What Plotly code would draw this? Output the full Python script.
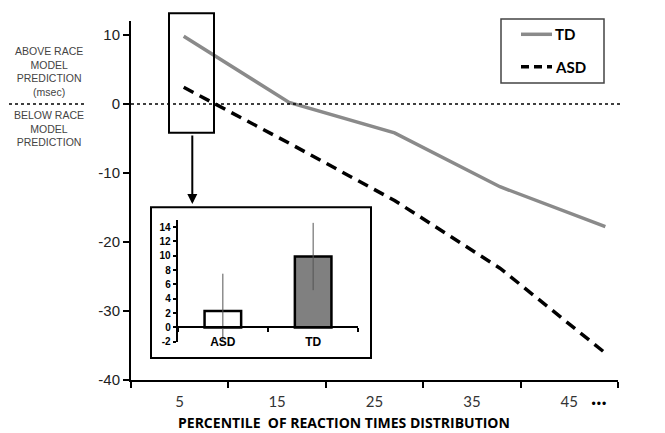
import plotly.graph_objects as go

# ---- data ----
percentiles = [5, 15, 25, 35, 45]
td_values = [9.8, 0.2, -4.2, -12.0, -17.8]
asd_values = [2.4, -5.7, -14.0, -23.8, -36.1]

inset_groups = ["ASD", "TD"]
inset_means = [2.3, 9.9]
inset_err = [5.2, 4.7]

y_ticks = [10, 0, -10, -20, -30, -40]
y_tick_text = ["10", "0", "-10", "-20", "-30", "-40"]
inset_ticks = [-2, 0, 2, 4, 6, 8, 10, 12, 14]
inset_tick_text = ["-2", "0", "2", "4", "6", "8", "10", "12", "14"]
x_tick_labels = ["5", "15", "25", "35", "45"]

# page has an 8px body margin; figure sized to fill the rest of the window
OFF = 8
W, H = 665 - OFF, 433 - OFF
L, R, T, B = 131 - OFF, 47, 21 - OFF, 53
PW, PH = W - L - R, H - T - B


def px(x):
    return (x - OFF - L) / PW


def py(y):
    return (H - B - (y - OFF)) / PH


fig = go.Figure()

# invisible trace to hold the category label axis
fig.add_trace(go.Scatter(x=x_tick_labels, y=[None] * 5, mode="markers",
                         xaxis="x", yaxis="y", showlegend=False, hoverinfo="skip"))
# main lines (on an overlaid axis)
fig.add_trace(go.Scatter(x=percentiles, y=td_values, mode="lines", name="TD",
                         line=dict(color="#8a8a8a", width=3.5),
                         xaxis="x3", yaxis="y", showlegend=False))
fig.add_trace(go.Scatter(x=percentiles, y=asd_values, mode="lines", name="ASD",
                         line=dict(color="black", width=3.5, dash="11px,7px"),
                         xaxis="x3", yaxis="y", showlegend=False))

# inset bars
fig.add_trace(go.Bar(x=inset_groups, y=inset_means, width=0.405,
                     marker=dict(color=["white", "#808080"],
                                 line=dict(color="black", width=2.5)),
                     error_y=dict(type="data", array=inset_err, color="#555",
                                  thickness=1, width=0),
                     xaxis="x2", yaxis="y2", showlegend=False))

fig.update_layout(
    width=W, height=H,
    margin=dict(l=L, r=R, t=T, b=B, autoexpand=False),
    paper_bgcolor="white", plot_bgcolor="rgba(0,0,0,0)",
    showlegend=False,
    xaxis=dict(domain=[0, 1], type="category", categoryarray=x_tick_labels,
               range=[-0.5, 4.5], tickson="boundaries", ticks="outside",
               ticklen=6, tickwidth=2, tickcolor="black", ticklabelstandoff=7,
               showline=True, linecolor="black", linewidth=2,
               showgrid=False, zeroline=False, automargin=False,
               tickfont=dict(family="Lato, Open Sans, sans-serif", size=15, color="#333")),
    xaxis3=dict(overlaying="x", range=[0, 46.2], visible=False, automargin=False),
    yaxis=dict(range=[-40, 12], tickmode="array", tickvals=y_ticks, ticktext=y_tick_text,
               showline=True, linecolor="black", linewidth=2,
               ticks="outside", ticklen=6, tickwidth=2, tickcolor="black",
               showgrid=False, zeroline=False, automargin=False,
               tickfont=dict(family="Liberation Sans, Arial, sans-serif", size=15, color="#222")),
    xaxis2=dict(domain=[px(177.7), px(358.3)], anchor="free", position=py(327.3),
                type="category", tickson="boundaries", ticks="outside", ticklen=4,
                tickwidth=2, tickcolor="black", showline=True, linecolor="black",
                linewidth=2, showgrid=False, range=[-0.5, 1.5], automargin=False,
                ticklabelstandoff=3,
                tickfont=dict(family="Liberation Sans, Arial, sans-serif", size=12,
                              color="black", weight="bold")),
    yaxis2=dict(domain=[py(341.7), py(220)], anchor="x2", range=[-2, 15],
                tickmode="array", tickvals=inset_ticks, ticktext=inset_tick_text,
                showline=True, linecolor="black", linewidth=2,
                ticks="outside", ticklen=3, tickwidth=2, tickcolor="black",
                showgrid=False, zeroline=False, automargin=False,
                tickfont=dict(family="Liberation Sans, Arial, sans-serif", size=10,
                              color="black", weight="bold")),
)

shapes = []
shapes.append(dict(type="line", xref="paper", yref="paper", x0=0, x1=px(622),
                   y0=py(104), y1=py(104), line=dict(color="black", width=1.5, dash="dot")))
shapes.append(dict(type="line", xref="paper", yref="paper", x0=px(3), x1=px(85),
                   y0=py(104), y1=py(104), line=dict(color="black", width=1.5, dash="dot")))
shapes.append(dict(type="rect", xref="paper", yref="paper", x0=px(169), x1=px(214),
                   y0=py(132.7), y1=py(13.3), line=dict(color="black", width=2)))
shapes.append(dict(type="rect", xref="paper", yref="paper", x0=px(151), x1=px(371),
                   y0=py(358), y1=py(207.3), line=dict(color="black", width=2)))
shapes.append(dict(type="rect", xref="paper", yref="paper", x0=px(501), x1=px(604),
                   y0=py(83), y1=py(19), line=dict(color="#444", width=1.5)))
shapes.append(dict(type="line", xref="paper", yref="paper", x0=px(521), x1=px(552),
                   y0=py(34.3), y1=py(34.3), line=dict(color="#8a8a8a", width=3.5)))
shapes.append(dict(type="line", xref="paper", yref="paper", x0=px(521), x1=px(552),
                   y0=py(66.7), y1=py(66.7), line=dict(color="black", width=3.5, dash="8px,5px")))
fig.update_layout(shapes=shapes)

ann = []
left_font = dict(family="Liberation Sans, Arial, sans-serif", size=10.5, color="#444")
ann.append(dict(xref="paper", yref="paper", x=px(49), y=py(72), showarrow=False,
                xanchor="center", yanchor="middle",
                text="ABOVE RACE<br>MODEL<br>PREDICTION<br>(msec)", align="center",
                font=left_font))
ann.append(dict(xref="paper", yref="paper", x=px(49), y=py(128), showarrow=False,
                xanchor="center", yanchor="middle",
                text="BELOW RACE<br>MODEL<br>PREDICTION", align="center", font=left_font))
leg_font = dict(family="Lato, Open Sans, sans-serif", size=15, color="black", weight="bold")
ann.append(dict(xref="paper", yref="paper", x=px(553), y=py(34.3), xanchor="left",
                yanchor="middle", showarrow=False, text="TD", font=leg_font))
ann.append(dict(xref="paper", yref="paper", x=px(553), y=py(66.7), xanchor="left",
                yanchor="middle", showarrow=False, text="ASD", font=leg_font))
ann.append(dict(xref="paper", yref="paper", x=px(192.3), y=py(204), ax=0, ay=-70,
                text="", showarrow=True, arrowhead=2, arrowsize=1, arrowwidth=2,
                arrowcolor="black"))
ann.append(dict(xref="x2", yref="y2", x="TD", y=16.2, text="*", showarrow=False,
                xanchor="center", yanchor="middle",
                font=dict(family="Liberation Sans, Arial, sans-serif", size=13, color="black")))
ann.append(dict(xref="paper", yref="paper", x=px(344), y=py(422), showarrow=False,
                xanchor="center", yanchor="middle",
                text="PERCENTILE\u00a0 OF REACTION TIMES DISTRIBUTION",
                font=dict(family="Open Sans, Lato, sans-serif", size=14, color="black",
                          weight="bold")))
ann.append(dict(xref="paper", yref="paper", x=px(599), y=py(396), showarrow=False,
                xanchor="center", yanchor="middle",
                text="...", font=dict(family="Lato, Open Sans, sans-serif", size=22,
                                      color="black", weight="bold")))
fig.update_layout(annotations=ann)

fig.write_html("out.html")
